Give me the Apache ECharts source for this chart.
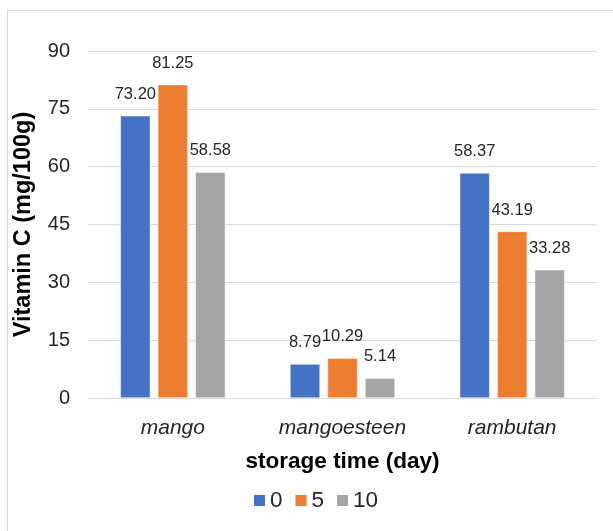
<!DOCTYPE html>
<html>
<head>
<meta charset="utf-8">
<script src="https://cdn.jsdelivr.net/npm/echarts@6/dist/echarts.min.js"></script>
<style>
html,body{margin:0;padding:0;background:#fff;}
#frame{position:absolute;left:7px;top:10px;width:620px;height:540px;border:1.5px solid #d9d9d9;box-sizing:border-box;}
#c{position:absolute;left:0;top:0;width:613px;height:531px;}
</style>
</head>
<body>
<div id="frame"></div>
<div id="c"></div>
<script>
const categories = ['mango', 'mangoesteen', 'rambutan'];
const seriesNames = ['0', '5', '10'];
const day0 = [73.20, 8.79, 58.37];
const day5 = [81.25, 10.29, 43.19];
const day10 = [58.58, 5.14, 33.28];
const colors = ['#4472C4', '#ED7D31', '#A5A5A5'];

const chart = echarts.init(document.getElementById('c'), null, {renderer: 'canvas'});
const font = 'Liberation Sans, Arial, sans-serif';
function mk(name, data, color) {
  return {
    name: name, type: 'bar', data: data, barWidth: 30, barGap: '25%',
    itemStyle: {color: color, borderColor: '#fff', borderWidth: 0.5},
    label: {show: true, position: 'top', distance: 13, fontFamily: font, fontSize: 16.5, color: '#262626',
      formatter: p => p.value.toFixed(2)}
  };
}
chart.setOption({
  animation: false,
  textStyle: {fontFamily: font},
  grid: {left: 88, right: 16, top: 51, bottom: 133, containLabel: false},
  legend: {
    data: seriesNames, top: 484, left: 247, itemWidth: 13, itemHeight: 13, itemGap: 11,
    icon: 'rect', textStyle: {fontFamily: font, fontSize: 22.5, color: '#262626', padding: [0,0,0,-1]}
  },
  xAxis: {
    type: 'category', data: categories,
    axisLine: {lineStyle: {color: '#d9d9d9', width: 1}}, axisTick: {show: false},
    axisLabel: {fontFamily: font, fontSize: 21, fontStyle: 'italic', color: '#262626', margin: 20},
    name: 'storage time (day)', nameLocation: 'middle', nameGap: 52,
    nameTextStyle: {fontFamily: font, fontSize: 22.5, fontWeight: 'bold', color: '#000'}
  },
  yAxis: {
    type: 'value', min: 0, max: 90, interval: 15,
    axisLine: {show: false}, axisTick: {show: false},
    splitLine: {lineStyle: {color: '#d9d9d9', width: 1}},
    axisLabel: {fontFamily: font, fontSize: 20, color: '#262626', margin: 18},
    name: 'Vitamin C (mg/100g)', nameLocation: 'middle', nameGap: 52,
    nameTextStyle: {fontFamily: font, fontSize: 23.5, fontWeight: 'bold', color: '#000'}
  },
  series: [mk(seriesNames[0], day0, colors[0]), mk(seriesNames[1], day5, colors[1]), mk(seriesNames[2], day10, colors[2])]
});
</script>
</body>
</html>
